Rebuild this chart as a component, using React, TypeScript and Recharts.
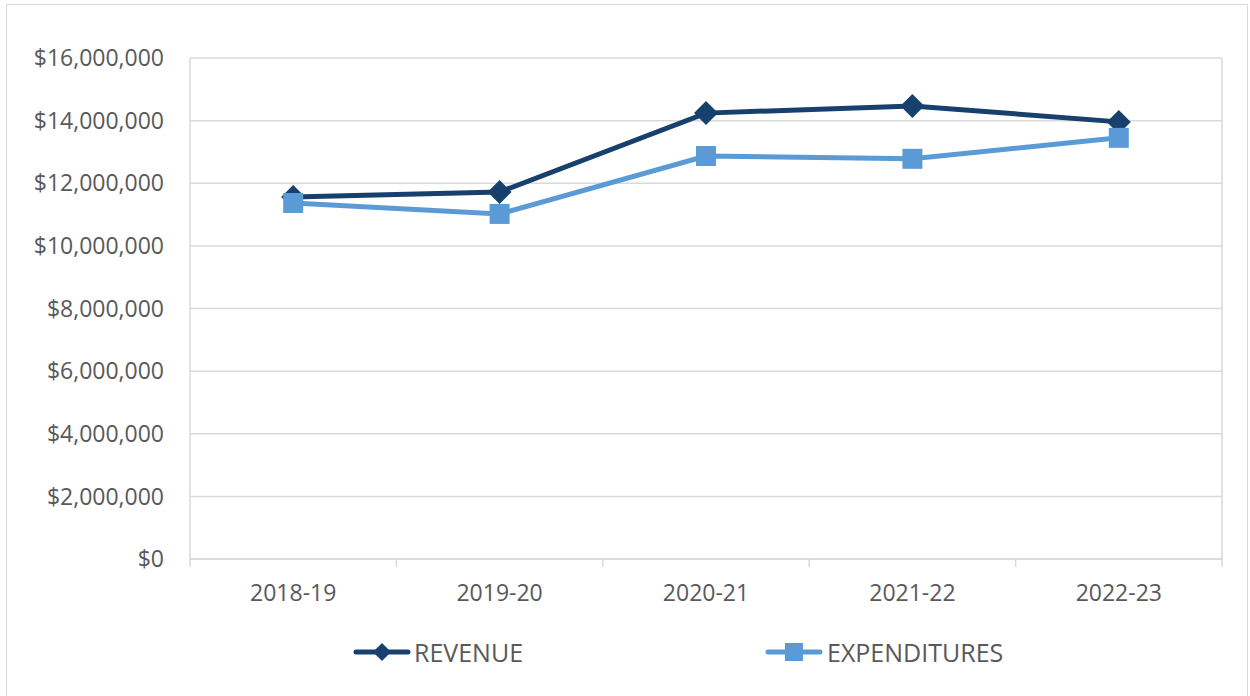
import React from 'react';
import {
  LineChart,
  Line,
  XAxis,
  YAxis,
  CartesianGrid,
  Legend,
} from 'recharts';

// Fiscal years and values
const years = ['2018-19', '2019-20', '2020-21', '2021-22', '2022-23'];
const revenue = [11560000, 11720000, 14240000, 14470000, 13960000];
const expenditures = [11370000, 11020000, 12870000, 12780000, 13450000];
const yTicks = [0, 2000000, 4000000, 6000000, 8000000, 10000000, 12000000, 14000000, 16000000];

const data = years.map((year, i) => ({
  year,
  revenue: revenue[i],
  expenditures: expenditures[i],
}));

const NAVY = '#17406D';
const BLUE = '#5B9BD5';
const GRID = '#d9d9d9';
const TEXT = '#595959';
const FONT = '"Open Sans", "Noto Sans", sans-serif';

const PLOT_LEFT = 190;
const PLOT_RIGHT = 1222;
const BAND = (PLOT_RIGHT - PLOT_LEFT) / years.length;

const money = (v: number) => `$${v.toLocaleString('en-US')}`;

const CategoryTick = (props: any) => {
  const { x, y, payload, index } = props;
  return (
    <g>
      <line x1={x - BAND / 2} x2={x - BAND / 2} y1={y} y2={y + 8} stroke={GRID} strokeWidth={1.5} />
      {index === years.length - 1 && (
        <line x1={x + BAND / 2} x2={x + BAND / 2} y1={y} y2={y + 8} stroke={GRID} strokeWidth={1.5} />
      )}
      <text x={x} y={y + 42} textAnchor="middle" fill={TEXT} fontSize={23} fontFamily={FONT}>
        {payload.value}
      </text>
    </g>
  );
};

const Diamond = (props: any) => {
  const { cx, cy } = props;
  if (cx == null || cy == null) return null;
  return (
    <path
      d={`M${cx},${cy - 12}L${cx + 12},${cy}L${cx},${cy + 12}L${cx - 12},${cy}Z`}
      fill={NAVY}
    />
  );
};

const Square = (props: any) => {
  const { cx, cy } = props;
  if (cx == null || cy == null) return null;
  return <rect x={cx - 10} y={cy - 10} width={20} height={20} fill={BLUE} />;
};

const LegendIcon = ({ color, shape }: { color: string; shape: 'diamond' | 'square' }) => (
  <svg width={58} height={24} style={{ display: 'block' }}>
    <line x1={3} x2={55} y1={12} y2={12} stroke={color} strokeWidth={5} strokeLinecap="round" />
    {shape === 'diamond' ? (
      <path d="M29,3L38,12L29,21L20,12Z" fill={color} />
    ) : (
      <rect x={20} y={3} width={18} height={18} fill={color} />
    )}
  </svg>
);

const renderLegend = () => (
  <div style={{ display: 'flex', alignItems: 'center', fontFamily: FONT, fontSize: 25, color: TEXT, lineHeight: '30px' }}>
    <div style={{ display: 'flex', alignItems: 'center', width: 412 }}>
      <LegendIcon color={NAVY} shape="diamond" />
      <span style={{ marginLeft: 3 }}>REVENUE</span>
    </div>
    <div style={{ display: 'flex', alignItems: 'center' }}>
      <LegendIcon color={BLUE} shape="square" />
      <span style={{ marginLeft: 4 }}>EXPENDITURES</span>
    </div>
  </div>
);

export default function App() {
  return (
    <div style={{ position: 'absolute', left: 0, top: 0, width: 1250, height: 696, overflow: 'hidden', background: '#fff' }}>
      <div
        style={{
          position: 'absolute',
          left: 6,
          top: 4,
          width: 1240,
          height: 700,
          border: `1.5px solid ${GRID}`,
        }}
      />
      <div style={{ position: 'absolute', left: 0, top: 0 }}>
        <LineChart
          width={1250}
          height={696}
          data={data}
          margin={{ top: 58, right: 1250 - PLOT_RIGHT, left: 10, bottom: 77 }}
        >
          <CartesianGrid
            stroke={GRID}
            strokeWidth={1.5}
            verticalCoordinatesGenerator={({ offset }: any) => [offset.left, offset.left + offset.width]}
          />
          <XAxis
            dataKey="year"
            height={60}
            padding={{ left: BAND / 2, right: BAND / 2 }}
            axisLine={{ stroke: GRID, strokeWidth: 1.5 }}
            tickLine={false}
            tickSize={0}
            tickMargin={0}
            interval={0}
            tick={<CategoryTick />}
          />
          <YAxis
            width={180}
            domain={[0, 16000000]}
            ticks={yTicks}
            interval={0}
            axisLine={false}
            tickLine={false}
            tickSize={0}
            tickMargin={26}
            tickFormatter={money}
            tick={{ fill: TEXT, fontSize: 23, fontFamily: FONT }}
          />
          <Legend
            layout="horizontal"
            verticalAlign="middle"
            wrapperStyle={{ left: 353, top: 637, width: 800 }}
            content={renderLegend}
          />
          <Line
            dataKey="revenue"
            name="REVENUE"
            stroke={NAVY}
            strokeWidth={5}
            dot={<Diamond />}
            activeDot={false}
            isAnimationActive={false}
          />
          <Line
            dataKey="expenditures"
            name="EXPENDITURES"
            stroke={BLUE}
            strokeWidth={5}
            dot={<Square />}
            activeDot={false}
            isAnimationActive={false}
          />
        </LineChart>
      </div>
    </div>
  );
}
